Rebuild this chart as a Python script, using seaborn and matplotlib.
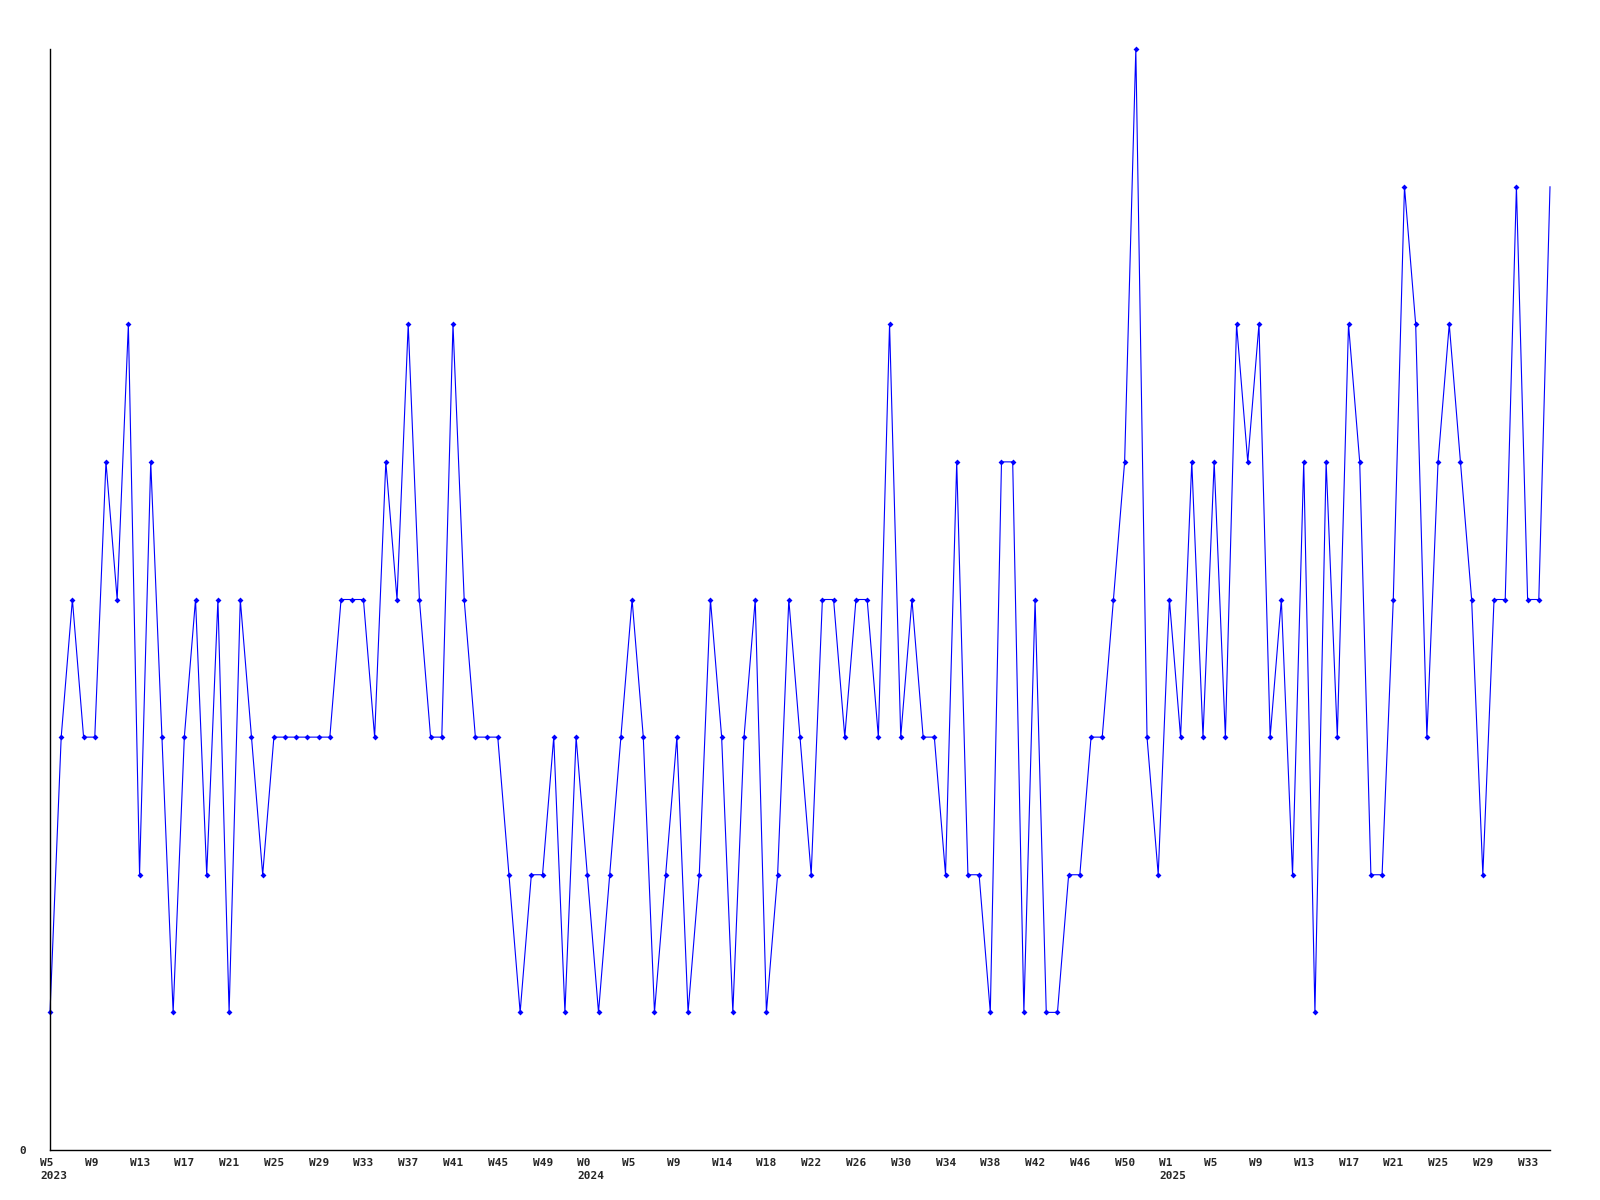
import numpy as np
import pandas as pd
import matplotlib
matplotlib.use('Agg')
import matplotlib.pyplot as plt
import matplotlib.transforms as mtransforms
import seaborn as sns


# weekly counts, 2023 W5 .. 2025 W35
counts = [1, 3, 4, 3, 3, 5, 4, 6, 2, 5, 3, 1, 3, 4, 2, 4, 1, 4, 3, 2,
          3, 3, 3, 3, 3, 3, 4, 4, 4, 3, 5, 4, 6, 4, 3, 3, 6, 4, 3, 3,
          3, 2, 1, 2, 2, 3, 1, 3, 2, 1, 2, 3, 4, 3, 1, 2, 3, 1, 2, 4,
          3, 1, 3, 4, 1, 2, 4, 3, 2, 4, 4, 3, 4, 4, 3, 6, 3, 4, 3, 3,
          2, 5, 2, 2, 1, 5, 5, 1, 4, 1, 1, 2, 2, 3, 3, 4, 5, 8, 3, 2,
          4, 3, 5, 3, 5, 3, 6, 5, 6, 3, 4, 2, 5, 1, 5, 3, 6, 5, 2, 2,
          4, 7, 6, 3, 5, 6, 5, 4, 2, 4, 4, 7, 4, 4, 7]

# x tick labels, one every 4 weeks
week_labels = ['W5', 'W9', 'W13', 'W17', 'W21', 'W25', 'W29', 'W33', 'W37',
               'W41', 'W45', 'W49',
               'W0', 'W5', 'W9', 'W14', 'W18', 'W22', 'W26', 'W30', 'W34',
               'W38', 'W42', 'W46', 'W50',
               'W1', 'W5', 'W9', 'W13', 'W17', 'W21', 'W25', 'W29', 'W33']
year_labels = {0: '2023', 12: '2024', 25: '2025'}

df = pd.DataFrame({'week': np.arange(len(counts)), 'count': counts})

sns.set_style('white')
plt.rcParams['font.family'] = ['DejaVu Sans Mono']

fig = plt.figure(figsize=(16, 12), dpi=100)
ax = fig.add_axes([50 / 1600, 50 / 1200, 1500 / 1600, 1101 / 1200])

sns.lineplot(data=df, x='week', y='count', ax=ax, color='#0000ff',
             linewidth=0.8, marker='D', markersize=3, markeredgewidth=0,
             markevery=slice(0, len(counts) - 1), clip_on=False)

ax.set_xlim(0, len(counts) - 1)
ax.set_ylim(0, max(counts))

# tick labels
ticks = list(range(0, len(counts), 4))
labels = []
for i, w in enumerate(week_labels):
    if i in year_labels:
        labels.append(w + '\n' + year_labels[i])
    else:
        labels.append(w)
ax.set_xticks(ticks)
ax.set_xticklabels(labels, fontsize=8, fontweight='bold')
ax.set_yticks([0])
ax.set_yticklabels(['0'], fontsize=8, fontweight='bold')
ax.tick_params(axis='x', length=0, pad=5.5)
ax.tick_params(axis='y', length=0, pad=17)

offset = mtransforms.ScaledTranslation(-10 / 100, 0, fig.dpi_scale_trans)
for lab in ax.get_xticklabels():
    lab.set_horizontalalignment('left')
    lab.set_linespacing(1.45)
    lab.set_transform(lab.get_transform() + offset)

ax.set_xlabel('')
ax.set_ylabel('')
for side in ['top', 'right']:
    ax.spines[side].set_visible(False)
for side in ['left', 'bottom']:
    ax.spines[side].set_color('black')
    ax.spines[side].set_linewidth(1)

plt.savefig('out.png', dpi=100)
